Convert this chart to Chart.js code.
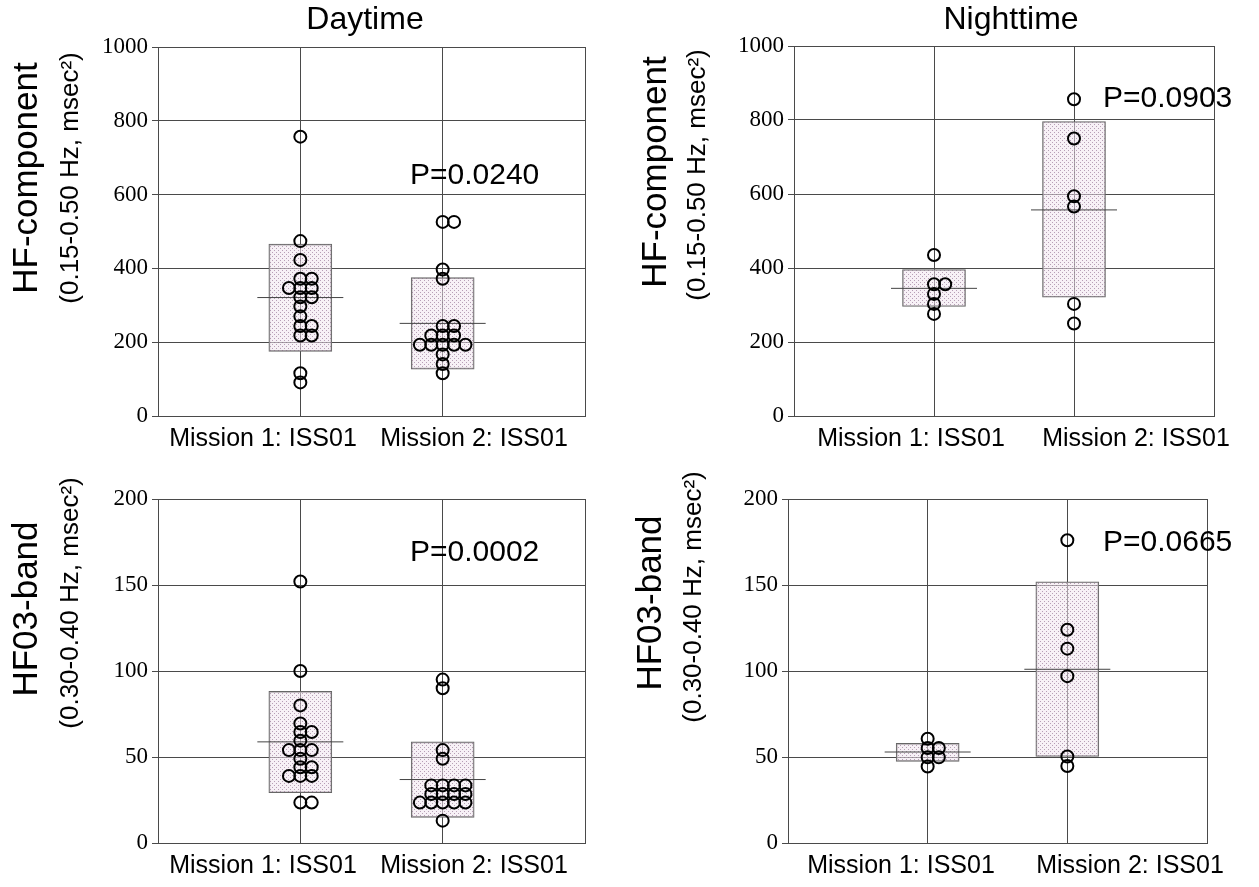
<!DOCTYPE html>
<html>
<head>
<meta charset="utf-8">
<script src="https://cdn.jsdelivr.net/npm/chart.js@4.4.0/dist/chart.umd.min.js"></script>
<style>
html, body { margin: 0; padding: 0; background: #fff; }
#wrap { position: relative; width: 1259px; height: 887px; overflow: hidden; }
canvas { position: absolute; }
</style>
</head>
<body>
<div id="wrap">
<canvas id="c1" width="630" height="460" style="left:0px;top:0px"></canvas>
<canvas id="c2" width="629" height="460" style="left:630px;top:0px"></canvas>
<canvas id="c3" width="630" height="432" style="left:0px;top:455px"></canvas>
<canvas id="c4" width="629" height="432" style="left:630px;top:455px"></canvas>
</div>
<script>
const missions = ['Mission 1: ISS01', 'Mission 2: ISS01'];
const periods = ['Daytime', 'Nighttime'];
const hfTitle = ['HF-component', '(0.15-0.50 Hz, msec\u00B2)'];
const hf03Title = ['HF03-band', '(0.30-0.40 Hz, msec\u00B2)'];

// HF-component, daytime
const dayHfM1 = [757, 474, 423, 372, 372, 347, 347, 347, 322, 322, 297, 270, 244, 244, 218, 218, 116, 91];
const dayHfM2 = [526, 526, 397, 372, 244, 244, 218, 218, 218, 193, 193, 193, 193, 193, 167, 141, 116];
const dayHfBox = [[175, 466], [127, 375]];
const dayHfMean = [321, 251];
const dayHfP = 'P=0.0240';

// HF-component, nighttime
const nightHfM1 = [435, 356, 356, 330, 303, 276];
const nightHfM2 = [856, 750, 594, 566, 303, 250];
const nightHfBox = [[296, 396], [321, 796]];
const nightHfMean = [345, 557];
const nightHfP = 'P=0.0903';

// HF03-band, daytime
const dayHf03M1 = [152, 100, 80, 69.5, 64.5, 64.5, 59.5, 54, 54, 54, 49, 44, 44, 39, 39, 39, 23.5, 23.5];
const dayHf03M2 = [95, 90, 54, 49, 33.5, 33.5, 33.5, 33.5, 28.5, 28.5, 28.5, 28.5, 23.5, 23.5, 23.5, 23.5, 23.5, 13];
const dayHf03Box = [[29.2, 88.2], [14.9, 58.8]];
const dayHf03Mean = [58.8, 36.9];
const dayHf03P = 'P=0.0002';

// HF03-band, nighttime
const nightHf03M1 = [60.6, 55.2, 55.2, 49.8, 49.8, 44.5];
const nightHf03M2 = [176, 124, 113, 97, 50.3, 44.8];
const nightHf03Box = [[47.5, 57.9], [50.3, 151.9]];
const nightHf03Mean = [52.9, 101];
const nightHf03P = 'P=0.0665';

const hfTicks = { max: 1000, step: 200 };
const hf03Ticks = { max: 200, step: 50 };

const DODGE = 0.08;
const SANS = '"Liberation Sans", Arial, sans-serif';
const SERIF = '"Liberation Serif", "Times New Roman", serif';

function dotPattern() {
    const c = document.createElement('canvas');
    c.width = 4; c.height = 4;
    const g = c.getContext('2d');
    g.fillStyle = 'rgba(240,230,238,0.55)';
    g.fillRect(0, 0, 4, 4);
    g.fillStyle = 'rgba(140,105,140,0.6)';
    g.fillRect(0, 0, 1, 1);
    g.fillRect(2, 2, 1, 1);
    return g.createPattern(c, 'repeat');
}

// equal values sit side by side: 0, +1, -1, +2, -2 ...
function dodge(values, cat) {
    const seen = {};
    const order = [0, 1, -1, 2, -2, 3, -3];
    return values.map((v) => {
        const k = String(v);
        seen[k] = (seen[k] || 0) + 1;
        return { x: cat + order[seen[k] - 1] * DODGE, y: v };
    });
}

const panelText = {
    id: 'panelText',
    afterDraw(chart, args, o) {
        const ctx = chart.ctx;
        const ox = o.ox, oy = o.oy;
        ctx.save();
        ctx.fillStyle = '#000';
        ctx.textBaseline = 'middle';
        if (o.title) {
            ctx.font = '32px ' + SANS;
            ctx.textAlign = 'center';
            ctx.fillText(o.title, o.titleAt[0] - ox, o.titleAt[1] - oy);
        }
        ctx.font = '25px ' + SANS;
        ctx.textAlign = 'center';
        missions.forEach((m, i) => ctx.fillText(m, o.labelX[i] - ox, o.labelY - oy));

        ctx.font = '30px ' + SANS;
        ctx.textAlign = 'left';
        ctx.fillText(o.p, o.pAt[0] - ox, o.pAt[1] - oy);

        const sizes = [35, 26];
        o.yTitle.forEach((t, i) => {
            ctx.save();
            ctx.translate(o.yAt[i][0] - ox, o.yAt[i][1] - oy);
            ctx.rotate(-Math.PI / 2);
            ctx.font = sizes[i] + 'px ' + SANS;
            ctx.textAlign = 'center';
            ctx.fillText(t, 0, 0);
            ctx.restore();
        });
        ctx.restore();
    },
};

function buildPanel(id, p) {
    const canvas = document.getElementById(id);
    const ox = parseFloat(canvas.style.left);
    const oy = parseFloat(canvas.style.top);
    const pattern = dotPattern();
    const gridColor = '#4a4a4a';
    return new Chart(canvas, {
        type: 'bar',
        data: {
            datasets: [
                {
                    type: 'bar',
                    data: p.box.map((b, i) => ({ x: i + 1, y: b })),
                    backgroundColor: pattern,
                    borderColor: '#666',
                    borderWidth: 1,
                    borderSkipped: false,
                    barThickness: 63,
                    order: 3,
                },
                {
                    type: 'scatter',
                    data: p.mean.map((m, i) => ({ x: i + 1, y: m })),
                    pointStyle: 'line',
                    pointRadius: 43,
                    borderColor: '#444',
                    borderWidth: 1,
                    order: 2,
                },
                {
                    type: 'scatter',
                    data: [...dodge(p.m1, 1), ...dodge(p.m2, 2)],
                    pointStyle: 'circle',
                    pointRadius: 6,
                    borderColor: '#000',
                    borderWidth: 2,
                    backgroundColor: 'rgba(0,0,0,0)',
                    order: 1,
                },
            ],
        },
        options: {
            responsive: false,
            animation: false,
            events: [],
            layout: { padding: { left: 0, top: p.pad[0], right: p.pad[1], bottom: p.pad[2] } },
            plugins: {
                legend: { display: false },
                tooltip: { enabled: false },
                panelText: {
                    ox, oy,
                    title: p.title, titleAt: p.titleAt,
                    labelX: p.labelX, labelY: p.labelY,
                    p: p.p, pAt: p.pAt,
                    yTitle: p.yTitle, yAt: p.yAt,
                },
            },
            scales: {
                x: {
                    type: 'linear',
                    min: 0,
                    max: 3,
                    offset: false,
                    ticks: { display: false, stepSize: 1 },
                    grid: { color: gridColor, drawTicks: false, offset: false },
                    border: { color: gridColor },
                    afterFit(s) { s.height = 0; },
                },
                y: {
                    min: 0,
                    max: p.ticks.max,
                    ticks: {
                        stepSize: p.ticks.step,
                        color: '#000',
                        padding: 4,
                        font: { family: SERIF, size: 23 },
                        callback: (v) => String(v),
                    },
                    grid: { color: gridColor, tickLength: 6 },
                    border: { color: gridColor },
                    afterFit(s) { s.width = p.axisW; },
                },
            },
        },
        plugins: [panelText],
    });
}

buildPanel('c1', {
    m1: dayHfM1, m2: dayHfM2, box: dayHfBox, mean: dayHfMean, p: dayHfP, ticks: hfTicks,
    axisW: 158, pad: [47, 45, 42],
    title: periods[0], titleAt: [365, 20],
    labelX: [263, 474], labelY: 439, pAt: [410, 176],
    yTitle: hfTitle, yAt: [[27, 178], [71, 178]],
});
buildPanel('c2', {
    m1: nightHfM1, m2: nightHfM2, box: nightHfBox, mean: nightHfMean, p: nightHfP, ticks: hfTicks,
    axisW: 164, pad: [46, 45, 42],
    title: periods[1], titleAt: [1011, 20],
    labelX: [911, 1136], labelY: 439, pAt: [1103, 99],
    yTitle: hfTitle, yAt: [[656, 172], [698, 175]],
});
buildPanel('c3', {
    m1: dayHf03M1, m2: dayHf03M2, box: dayHf03Box, mean: dayHf03Mean, p: dayHf03P, ticks: hf03Ticks,
    axisW: 158, pad: [19, 45, 41],
    title: null,
    labelX: [263, 474], labelY: 866, pAt: [410, 553],
    yTitle: hf03Title, yAt: [[27, 609], [71, 603]],
});
buildPanel('c4', {
    m1: nightHf03M1, m2: nightHf03M2, box: nightHf03Box, mean: nightHf03Mean, p: nightHf03P, ticks: hf03Ticks,
    axisW: 158, pad: [19, 52, 41],
    title: null,
    labelX: [901, 1130], labelY: 866, pAt: [1103, 543],
    yTitle: hf03Title, yAt: [[651, 603], [694, 597]],
});
</script>
</body>
</html>
